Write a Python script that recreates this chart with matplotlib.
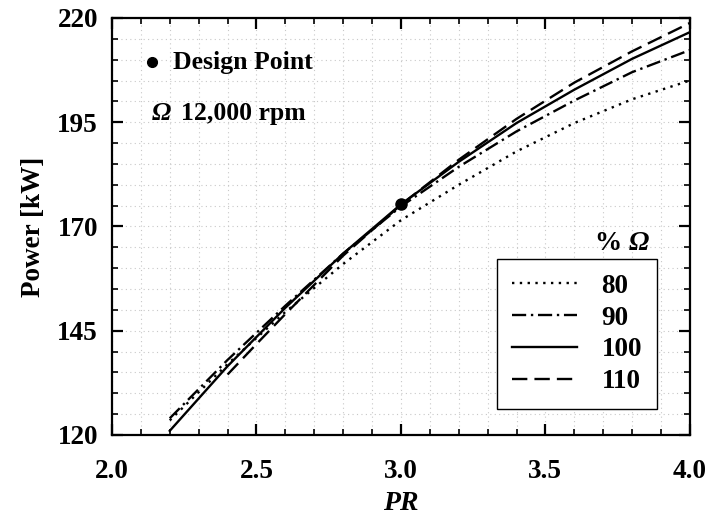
import matplotlib.pyplot as plt
from matplotlib.ticker import MultipleLocator, FixedLocator

plt.rcParams['font.family'] = ['Liberation Serif', 'DejaVu Serif']
plt.rcParams['font.weight'] = 'bold'
plt.rcParams['axes.labelweight'] = 'bold'

# data
pr_80 = [2.2, 2.4, 2.6, 2.8, 3.0, 3.2, 3.4, 3.6, 3.8, 4.0]
pw_80 = [123.5, 137.0, 149.5, 161.0, 171.5, 180.0, 188.0, 194.8, 200.5, 205.0]

pr_90 = [2.2, 2.4, 2.6, 2.8, 3.0, 3.2, 3.4, 3.6, 3.8, 4.0]
pw_90 = [124.0, 138.0, 151.0, 163.5, 174.8, 184.3, 192.8, 200.2, 207.0, 212.3]

pr_100 = [2.2, 2.4, 2.6, 2.8, 3.0, 3.2, 3.4, 3.6, 3.8, 4.0]
pw_100 = [121.0, 136.5, 150.5, 163.5, 175.3, 185.5, 194.8, 202.8, 210.2, 216.6]

pr_110 = [2.4, 2.5, 2.6, 2.8, 3.0, 3.2, 3.4, 3.6, 3.8, 4.0]
pw_110 = [134.5, 141.8, 149.0, 163.0, 175.2, 186.0, 195.8, 204.5, 212.0, 218.8]

design_pr = 3.0
design_pw = 175.4

y_major = [120, 145, 170, 195, 220]

fig = plt.figure(figsize=(7.1, 5.22), dpi=100)
ax = fig.add_axes([0.1577, 0.1667, 0.814, 0.7989])

lw = 1.7
ax.plot(pr_80, pw_80, color='k', lw=lw, ls=(0, (1, 2.3)), label='80')
ax.plot(pr_90, pw_90, color='k', lw=lw, ls=(0, (6, 2, 1, 2)), label='90')
ax.plot(pr_100, pw_100, color='k', lw=lw, ls='-', label='100')
ax.plot(pr_110, pw_110, color='k', lw=lw, ls=(0, (6.5, 3)), label='110')
ax.plot([design_pr], [design_pw], 'o', color='k', ms=8)

ax.set_xlim(2.0, 4.0)
ax.set_ylim(120, 220)
ax.xaxis.set_major_locator(MultipleLocator(0.5))
ax.xaxis.set_minor_locator(MultipleLocator(0.1))
ax.yaxis.set_major_locator(FixedLocator(y_major))
ax.yaxis.set_minor_locator(MultipleLocator(5))
ax.xaxis.set_major_formatter(lambda v, p: f'{v:.1f}')

ax.grid(which='both', color='#c8c8c8', ls=(0, (1, 3)), lw=0.8)
ax.set_axisbelow(True)
ax.tick_params(which='both', direction='in', top=True, right=True,
               labelsize=19.5)
ax.tick_params(which='major', length=8, width=1.6)
ax.tick_params(which='minor', length=4, width=1.2)
ax.tick_params(axis='x', pad=17)
ax.tick_params(axis='y', pad=10)
for s in ax.spines.values():
    s.set_linewidth(1.6)

ax.set_xlabel('PR', fontsize=20, style='italic', labelpad=5)
ax.set_ylabel('Power [kW]', fontsize=19.5, labelpad=8)

# annotations top-left
ax.plot([0.0692], [0.894], 'o', color='k', ms=7, transform=ax.transAxes,
        clip_on=False)
ax.text(0.106, 0.894, 'Design Point', transform=ax.transAxes,
        fontsize=18.5, va='center', ha='left')
ax.text(0.069, 0.772, 'Ω', transform=ax.transAxes, fontsize=18.5,
        style='italic', va='center', ha='left')
ax.text(0.12, 0.772, '12,000 rpm', transform=ax.transAxes, fontsize=18.5,
        va='center', ha='left')

leg = ax.legend(loc='lower right', bbox_to_anchor=(0.943, 0.062),
                borderaxespad=0, fontsize=19.5, handlelength=2.4,
                handletextpad=0.9, labelspacing=0.25, fancybox=False,
                edgecolor='k', framealpha=1, borderpad=0.55)
leg.get_frame().set_linewidth(1.0)
ax.text(0.895, 0.46, '% ', transform=ax.transAxes, fontsize=19.5,
        ha='right', va='center')
ax.text(0.895, 0.46, 'Ω', transform=ax.transAxes, fontsize=19.5,
        style='italic', ha='left', va='center')

fig.savefig('out.png', dpi=100)
